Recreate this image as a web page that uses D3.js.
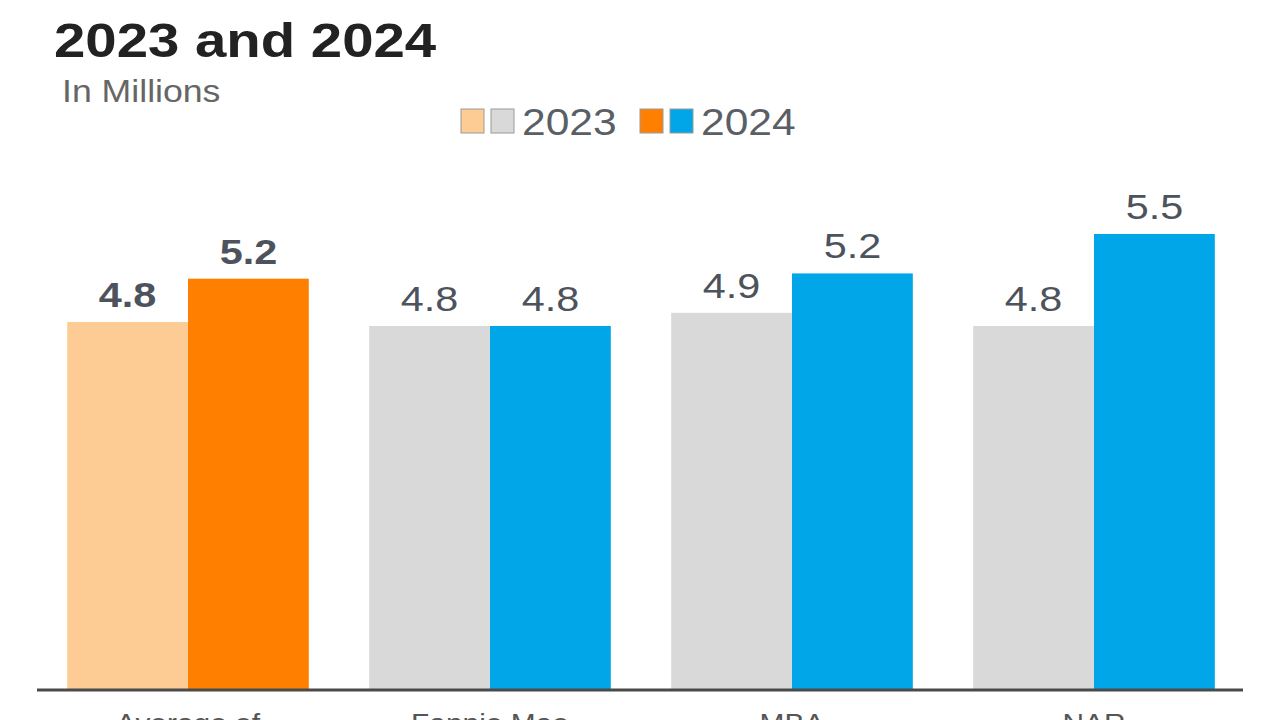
<!DOCTYPE html>
<html><head><meta charset="utf-8">
<script src="https://cdn.jsdelivr.net/npm/d3@7"></script>
<style>body{margin:0;background:#fff;}svg{display:block;font-family:"Liberation Sans",Arial,sans-serif;}</style>
</head><body>
<svg id="c" width="1279" height="720"></svg>
<script>
const categories = ["Average of Forecasts", "Fannie Mae", "MBA", "NAR"];
const seriesNames = ["2023", "2024"];
const values2023 = [4.83, 4.8, 4.9, 4.8];
const values2024 = [5.16, 4.8, 5.2, 5.5];
const colors2023 = ["#FDCB94", "#D9D9D9", "#D9D9D9", "#D9D9D9"];
const colors2024 = ["#FF8000", "#00A6E8", "#00A6E8", "#00A6E8"];

const SX = 1.15; // horizontal stretch of the reference's text
const svg = d3.select("#c");
const base = 690;
const x = d3.scaleBand().domain(categories).range([37, 1245]).paddingInner(0.2).paddingOuter(0.1);
const sub = d3.scaleBand().domain(seriesNames).range([0, x.bandwidth()]);
const y = d3.scaleLinear().domain([2.03, 5.5]).range([base, 234]);

const rows = [];
categories.forEach((c, i) => {
  rows.push({cat: c, s: "2023", v: values2023[i], col: colors2023[i], bold: i === 0});
  rows.push({cat: c, s: "2024", v: values2024[i], col: colors2024[i], bold: i === 0});
});

svg.selectAll("rect.bar").data(rows).join("rect").attr("class", "bar")
  .attr("x", d => x(d.cat) + sub(d.s))
  .attr("width", sub.bandwidth())
  .attr("y", d => y(d.v))
  .attr("height", d => base - y(d.v))
  .attr("fill", d => d.col);

svg.selectAll("text.val").data(rows).join("text").attr("class", "val")
  .attr("transform", d => `translate(${x(d.cat) + sub(d.s) + sub.bandwidth() / 2},${y(d.v) - 15}) scale(${SX},1)`)
  .attr("text-anchor", "middle")
  .attr("font-size", 36)
  .attr("font-weight", d => d.bold ? "bold" : "normal")
  .attr("fill", "#4d535c")
  .text(d => d.v.toFixed(1));

const xAxis = d3.axisBottom(x).tickSize(0).tickPadding(0).tickFormat(d => d === "Average of Forecasts" ? "Average of" : d);
const ax = svg.append("g").attr("transform", `translate(0,${base})`).call(xAxis);
ax.select(".domain").attr("stroke", "#4a4a4a").attr("stroke-width", 3).attr("d", "M37,0H1243");
ax.selectAll(".tick text").attr("y", 0).attr("dy", 0)
  .attr("transform", `translate(0,42) scale(${SX},1)`)
  .attr("font-size", 26).attr("fill", "#555").attr("font-family", "Liberation Sans, Arial, sans-serif");

function txt(tx, ty, size, weight, fill, s) {
  svg.append("text").attr("transform", `translate(${tx},${ty}) scale(${SX},1)`)
    .attr("font-size", size).attr("font-weight", weight).attr("fill", fill).text(s);
}
txt(55, -11, 49, "bold", "#222", "Existing-Home Sales Forecasts for");
txt(54, 57, 49, "bold", "#222", "2023 and 2024");
txt(62, 102, 31, "normal", "#666", "In Millions");

// legend
const legend = [
  {name: seriesNames[0], cols: [colors2023[0], colors2023[1]], x: 461},
  {name: seriesNames[1], cols: [colors2024[0], colors2024[1]], x: 640}
];
legend.forEach(l => {
  l.cols.forEach((c, j) => {
    svg.append("rect").attr("x", l.x + j * 30).attr("y", 109).attr("width", 23).attr("height", 24)
      .attr("fill", c).attr("stroke", "#9a9a9a").attr("stroke-width", 1);
  });
  txt(l.x + 61, 135, 37, "normal", "#5a5f66", l.name);
});
</script>
</body></html>
